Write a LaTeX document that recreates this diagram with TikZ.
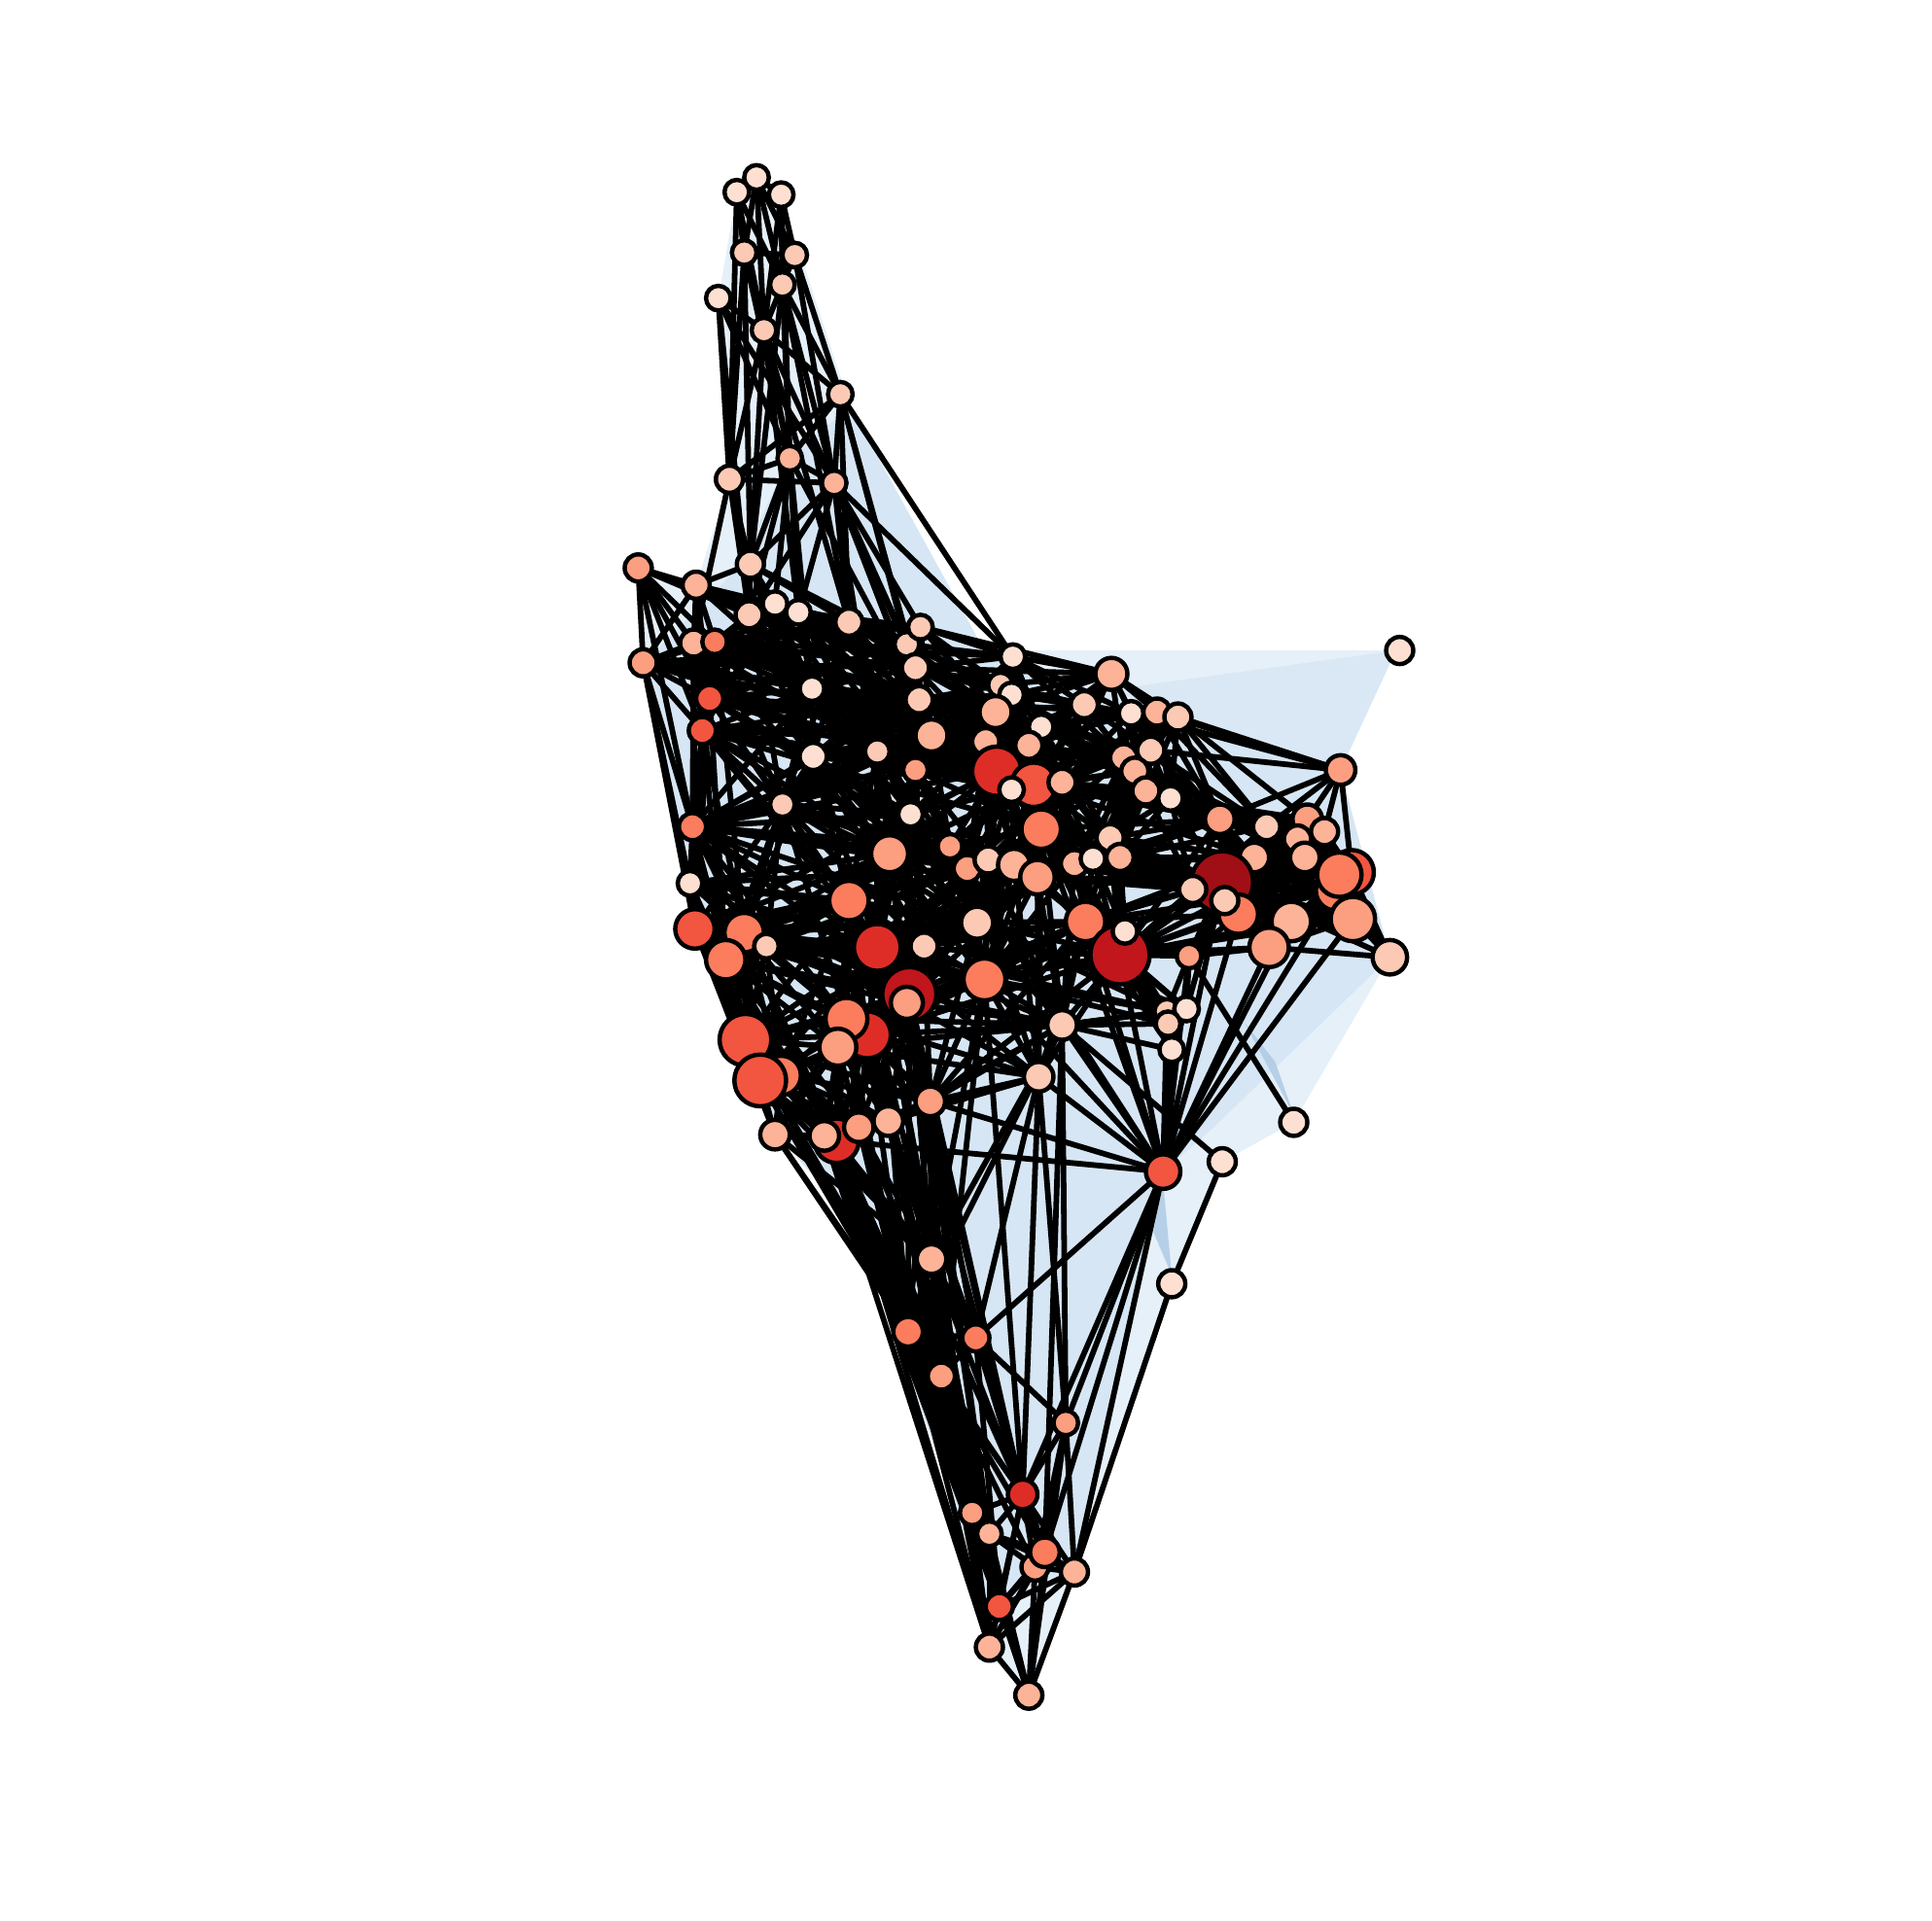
\documentclass[tikz,border=0pt]{standalone}
\usepackage{tikz}

\definecolor{rd1}{HTML}{FEE0D2}
\definecolor{rd2}{HTML}{FCCAB4}
\definecolor{rd3}{HTML}{FCB398}
\definecolor{rd4}{HTML}{FC9E80}
\definecolor{rd5}{HTML}{FB7D5D}
\definecolor{rd6}{HTML}{F25540}
\definecolor{rd7}{HTML}{DE2D26}
\definecolor{rd8}{HTML}{C0161C}
\definecolor{rd9}{HTML}{A00F15}
\definecolor{bl1}{HTML}{E6F0F9}
\definecolor{bl2}{HTML}{D6E6F4}
\definecolor{bl3}{HTML}{ABC8E3}

\pgfdeclarelayer{shade}
\pgfdeclarelayer{edges}
\pgfsetlayers{shade,edges,main}

\tikzset{
    vtx/.style={circle, draw=black, line width=1pt, inner sep=0pt, outer sep=0pt, minimum size=#1*0.2mm},
    conn/.style={draw=black, line width=1.3pt},
}

\begin{document}
\begin{tikzpicture}[x={(0.01cm,0)}, y={(0,-0.01cm)}]
    \useasboundingbox (0,0) rectangle (1568,1559);

    % nodes: number / x / y / radius / colour
    \foreach \n/\x/\y/\rad/\col in {
        1/614/144/10/rd1, 2/598/156/10/rd1, 3/634/158/10/rd1, 4/604/205/10/rd2, 5/645/207/10/rd2,
        6/635/231/10/rd2, 7/583/242/10/rd1, 8/620/268/10/rd2, 9/682/320/10/rd2, 10/641/372/10/rd3,
        11/592/389/11/rd2, 12/677/392/10/rd3, 13/609/458/11/rd2, 14/518/461/11/rd4, 15/565/475/11/rd3,
        16/608/499/11/rd2, 17/629/490/10/rd1, 18/648/497/10/rd1, 19/689/505/11/rd2, 20/736/523/10/rd2,
        21/747/509/10/rd2, 22/522/538/11/rd4, 23/563/522/11/rd3, 24/580/521/10/rd5, 25/576/567/11/rd6,
        26/570/593/11/rd6, 27/659/559/10/rd1, 28/743/542/11/rd2, 29/746/568/11/rd2, 30/660/614/11/rd1,
        31/712/610/10/rd2, 32/756/597/13/rd3, 33/743/625/10/rd4, 34/635/653/10/rd2, 35/739/661/10/rd1,
        36/562/671/11/rd5, 37/560/717/10/rd1, 38/722/693/15/rd4, 39/771/687/10/rd4, 40/689/731/16/rd5,
        41/564/754/16/rd6, 42/604/757/16/rd5, 43/589/779/16/rd5, 44/622/768/10/rd2, 45/712/769/19/rd7,
        46/750/768/11/rd2, 47/738/807/22/rd8, 48/736/814/13/rd4, 49/793/749/13/rd2, 50/799/795/17/rd5,
        51/605/844/21/rd6, 53/634/873/16/rd5, 52/617/877/21/rd6, 55/704/840/19/rd7, 54/687/827/17/rd5,
        56/680/850/15/rd4, 58/679/926/18/rd7, 57/629/921/12/rd3, 59/669/922/12/rd3, 60/697/915/12/rd4,
        61/721/910/12/rd3, 62/755/894/12/rd4, 63/843/874/12/rd2, 64/862/832/12/rd2, 65/881/748/16/rd5,
        66/909/775/24/rd8, 67/913/756/10/rd1, 68/965/776/10/rd4, 69/947/821/10/rd2, 70/963/819/10/rd1,
        71/948/831/10/rd2, 72/951/852/10/rd1,
        73/756/1022/12/rd3, 74/737/1081/12/rd5, 75/792/1086/11/rd5, 76/764/1117/11/rd4, 77/865/1155/10/rd4,
        78/951/1042/11/rd1, 79/830/1213/12/rd7, 80/789/1228/10/rd4, 81/803/1245/10/rd3, 82/840/1272/11/rd4,
        83/848/1260/12/rd5, 84/872/1276/11/rd3, 85/811/1304/11/rd6, 86/803/1337/11/rd3, 87/835/1376/11/rd3,
        88/1136/528/11/rd1, 89/1088/625/12/rd4, 90/902/547/13/rd3, 91/880/572/11/rd2, 92/918/579/10/rd1,
        93/939/578/11/rd3, 94/956/582/11/rd2, 95/822/533/10/rd1, 96/812/556/10/rd2, 97/821/564/10/rd1,
        98/808/578/13/rd3, 99/845/590/10/rd1, 100/835/605/11/rd3, 101/800/602/11/rd3, 102/809/626/20/rd7,
        103/839/637/18/rd6, 104/821/641/10/rd1, 105/862/635/11/rd3, 106/912/615/11/rd3, 107/934/609/11/rd2,
        108/921/626/11/rd3, 109/930/642/11/rd3, 110/950/648/10/rd1, 111/845/673/16/rd5, 112/901/680/11/rd2,
        113/872/701/11/rd3, 114/887/697/10/rd1, 115/909/696/11/rd3, 116/785/705/11/rd4, 117/802/698/11/rd2,
        118/823/702/13/rd3, 119/842/712/14/rd4, 120/990/665/12/rd4, 121/1028/671/11/rd2, 122/1061/665/12/rd4,
        123/1053/681/11/rd3, 124/1075/675/11/rd3, 125/1018/696/12/rd3, 126/1059/696/12/rd3, 127/1097/708/18/rd6,
        129/1084/723/16/rd5, 128/1087/710/18/rd5, 130/992/716/25/rd9, 133/1005/742/16/rd5, 131/968/722/11/rd2,
        132/994/731/11/rd2, 134/1048/748/16/rd3, 135/1030/769/16/rd4, 136/1098/746/18/rd4, 137/1128/777/14/rd2,
        138/1050/911/11/rd1, 139/992/943/11/rd1, 140/944/951/14/rd6}
        \node[vtx=\rad, fill=\col] (v\n) at (\x,\y) {};

    % blue hull shading
    \begin{pgfonlayer}{shade}
        \fill[bl1] (598,156) -- (614,144) -- (634,158) -- (690,330) -- (795,528) -- (1133,528)
            -- (1088,625) -- (1128,777) -- (1050,911) -- (992,943) -- (951,1042) -- (872,1276)
            -- (835,1376) -- (803,1337) -- (785,1240) -- (700,1000) -- (629,919) -- (600,870)
            -- (560,717) -- (522,538) -- (518,461) -- (565,475) -- (592,389) -- (583,242) -- cycle;
        \fill[bl2] (640,372) -- (690,330) -- (800,530) -- (1088,625) -- (1128,777) -- (985,915)
            -- (944,951) -- (870,1276) -- (800,1300) -- (700,1000) -- (629,919) -- (560,717)
            -- (522,538) -- (600,460) -- cycle;
        \fill[bl2, opacity=0.7] (900,560) -- (1133,528) -- (1088,625) -- cycle;
        \fill[bl3, opacity=0.8] (1010,830) -- (1035,862) -- (1050,905) -- cycle;
        \fill[bl3, opacity=0.8] (944,960) -- (951,1035) -- (936,1000) -- cycle;
    \end{pgfonlayer}

    % connectors
    \begin{pgfonlayer}{edges}
        \foreach \a/\nb in {
            1/{2,3,4,5,6,8}, 2/{4,6,8,11}, 3/{5,6,8,10}, 4/{5,8,10,11,13}, 5/{6,9,12},
            6/{8,9,10,12,13,19}, 7/{8,10,11,12,16}, 8/{9,10,11,12,13,18,19},
            9/{10,11,12,19,20,28,95}, 10/{11,12,13,16,17,18,27,29}, 11/{12,13,16,23},
            12/{13,16,18,19,20,21,28,29,31,32,95}, 13/{15,16,17,19,20,27,30},
            14/{15,16,22,23,24,25,26,36}, 15/{16,19,20,22,23,24,25,26,27,28,29},
            16/{17,18,19,24,25,26,27,28,29,30,31,33,34}, 17/{18,19,24,26,27,28,30,31,32},
            18/{19,21,24,25,27,28,29,31,32,33}, 19/{20,21,24,27,28,29,30,31,32,33,34,35,98},
            20/{21,22,25,28,29,31,32,33,95,96,97,98}, 21/{24,28,29,31,32,90,95,96,97,98,100},
            22/{23,24,25,26,27,28,29,36,37,41,98,100,101,102}, 23/{24,25,26,31,36,38,41,43,98,101,102},
            24/{25,26,27,28,29,30,34,36,42,95,98,101,102,103},
            25/{26,27,30,31,32,34,36,41,43,45,98,100,101,102,103,116},
            26/{27,29,33,34,36,38,40,41,42,45,99,101,102,103,105,111,116},
            27/{28,29,30,31,32,33,34,35,36,38,98,101}, 28/{29,30,31,32,33,34,90,91,95,96,97,98,101},
            29/{30,31,32,33,34,35,36,92,96,97,98,99,100,101,102},
            30/{31,32,33,34,35,36,38,39,40,42,45,46,49,98,101,102,116},
            31/{32,33,34,35,36,38,39,40,45,46,49,97,98,100,101,102,116},
            32/{33,34,35,36,39,93,95,97,98,99,100,101,102,103,104,105,106},
            33/{34,35,36,38,39,40,45,46,49,98,100,101,102,104,105,107,111,116,117},
            34/{35,36,38,39,40,41,42,43,44,45,46,47,49,54,116},
            35/{36,38,39,40,45,46,47,49,50,101,102,103,116,117},
            36/{37,38,39,40,41,42,43,44,45,47,49,51,52,54,98,101,102,116,117},
            37/{38,40,41,42,43,44,45,47,49,51,52,116},
            38/{39,40,45,46,47,48,49,50,54,55,102,103,111,116,117,118,119},
            39/{45,46,47,48,49,50,102,103,104,111,113,116,117,118,119},
            40/{41,42,43,44,45,46,47,48,49,50,51,54,55,56,73,74,116},
            41/{38,40,42,43,44,45,47,49,50,51,52,53,57,102,116,118},
            42/{38,39,43,44,45,47,48,49,50,51,52,53,54,55,56,74,76,116},
            43/{44,45,47,48,49,51,52,53,54,55,56,57,58,60},
            44/{38,40,45,46,47,48,49,50,51,53,54,55,116},
            45/{46,47,48,49,50,54,55,56,60,61,62,63,64,65,66,69,73,74,79,85,111,113,116,117,118,119},
            46/{47,48,49,50,62,65,111,116,117,118,119},
            47/{48,50,54,55,56,58,60,61,62,64,65,66,73,74,75,76,79,80,85,111},
            48/{50,56,58,62,63,64,65,111,119},
            49/{50,62,64,65,66,69,70,102,103,111,113,116,117,118,119},
            50/{62,63,64,65,66,67,69,71,73,76,79,102,111,113,116,117,118,119,140},
            51/{45,47,49,52,53,54,55,56,57,58,59,60,61,62,74,76},
            52/{45,47,53,56,57,58,59,60,73,74},
            53/{40,54,55,56,57,58,59,60,61,62}, 54/{45,50,55,56,57,58,59,60,61,62,63,64,65,74},
            55/{47,50,56,58,60,61,62,64,65,66,73,75}, 56/{47,50,57,58,59,60,61,62,63,64},
            57/{58,59,73,74,76},
            58/{59,60,61,62,73,74,75,76,80,81,85,86,140}, 59/{60,73,74,76,80,85,86},
            60/{61,62,63,73,74,76,79,81,85}, 61/{62,63,64,73,75,76,80,81,85,86},
            62/{63,64,65,66,73,74,75,76,79,85,140}, 63/{64,65,66,75,77,79,111,118,119,140},
            64/{65,66,69,70,71,72,73,74,77,83,111,113,116,117,119,140},
            65/{66,67,68,69,70,71,72,111,112,113,114,115,118,119,125,130,131,132,133,140},
            66/{67,68,69,70,71,72,111,112,113,114,115,119,120,121,122,125,126,128,130,131,132,133,134,135,136,140},
            67/{68,112,114,115,130}, 68/{69,70,125,130,132,133,135,138,140},
            69/{70,71,72,111,113,119,140}, 70/{71,72,130}, 71/{72,140}, 72/{113,140},
            73/{74,75,76,79,80,81,85}, 74/{75,76,79,80,81,85,86}, 75/{76,77,79,83,85,140},
            76/{79,80,81,82,83,85,86,87}, 77/{79,82,83,84,87,140}, 78/{84,139},
            79/{80,81,82,83,84,85,86,140}, 80/{81,85,86}, 81/{82,83,84,85,86,87}, 82/{83,84,85,86,87},
            83/{84,85,86,87,140}, 84/{85,86,87,140}, 85/{86,87}, 86/{87},
            89/{92,93,94,107,120,121,122,124,127},
            90/{91,92,93,94,95,96,97,98,99,100,103,105,106,107},
            91/{92,95,96,97,98,99,100,101,102,103,105,106,107,108},
            92/{93,94,95,97,99,100,105,106,107,108,109,120},
            93/{94,105,106,107,108,109,110,120,121}, 94/{106,107,108,109,110,120,121,122},
            95/{96,97,98,99,100,101,102,104,105,106}, 96/{97,98,100,101,102,103},
            97/{98,99,100,102,104,105,106}, 98/{99,100,101,102,103,104,106,107,111,116,117},
            99/{100,103,105,106,107,108,109,111,112,113}, 100/{101,102,103,104,105,106,108,111,112,113,114},
            101/{102,103,104,105,106,111,116,117,118},
            102/{103,104,105,106,111,113,116,117,118,119,120},
            103/{104,105,108,111,112,113,114,118,119,120,125}, 104/{105,106,108,111,113,116,117,118,119},
            105/{106,108,109,111,112,113,114,115,116,117,118,119,120},
            106/{107,108,109,110,111,112,113,114,115,120,121,125}, 107/{108,109,110,112,115,120,121,125},
            108/{109,110,111,112,113,114,115,120,121,125}, 109/{110,112,113,114,115,120,121,125,131},
            110/{112,115,120,121,122,123,125,126,130,131},
            111/{112,113,114,115,116,117,118,119,120,125,130,131,140},
            112/{113,114,115,120,125,130,131,132}, 113/{114,115,117,118,119,120,125,130,131,132},
            114/{115,119,130,131,132}, 115/{119,120,121,125,130,131,132,133},
            116/{63,117,118,119,140}, 117/{118,119}, 118/{119,130}, 119/{120,130,131},
            120/{121,122,123,124,125,126,128,130,131,132,133,134,135},
            121/{122,123,124,125,126,127,128,129,130,131,132,133,134,135},
            122/{123,124,125,126,127,128,129,131,133,134,135,136,137},
            123/{124,125,126,127,128,129,130,131,132,133,134,135,136},
            124/{125,126,127,128,129,130,133,134,135,136},
            125/{126,127,128,129,130,131,132,133,134,135,136},
            126/{127,128,129,130,131,132,133,134,135,136,137},
            127/{128,129,130,133,134,135,136,137}, 128/{129,130,133,134,135,136,137},
            129/{130,131,132,133,134,135,136,140}, 130/{131,132,133,134,135,136,137,140},
            131/{132,133,134,135,136}, 132/{133,134,135,136}, 133/{134,135,136,140},
            134/{135,136,140}, 135/{136,137,140}, 136/{137,140}, 139/{64}}
            {\foreach \b in \nb {\draw[conn] (v\a) -- (v\b);}}
    \end{pgfonlayer}
\end{tikzpicture}
\end{document}
